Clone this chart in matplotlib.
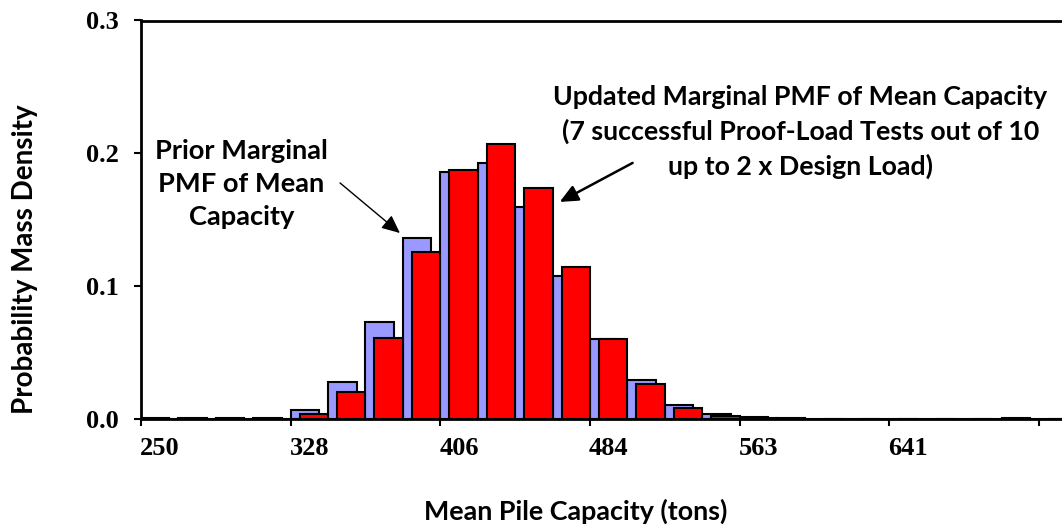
import matplotlib.pyplot as plt
import numpy as np

# bin labels (tons) and probability masses per bin
bins = ['250', '270', '289', '309', '328', '348', '367', '387', '406', '426',
        '445', '465', '484', '504', '524', '543', '563', '582', '602', '621',
        '641', '660', '680', '699', '719']
prior = [0.0004, 0.0004, 0.0004, 0.0004, 0.0068, 0.0275, 0.0730, 0.1360,
         0.1860, 0.1925, 0.1595, 0.1075, 0.0600, 0.0290, 0.0105, 0.0040,
         0.0015, 0.0006, 0.0003, 0.0003, 0.0003, 0.0003, 0.0003, 0.0008,
         0.0003]
updated = [0.0001, 0.0001, 0.0001, 0.0001, 0.0038, 0.0200, 0.0610, 0.1255,
           0.1875, 0.2070, 0.1740, 0.1145, 0.0605, 0.0265, 0.0085, 0.0025,
           0.0008, 0.0003, 0.0001, 0.0001, 0.0001, 0.0001, 0.0001, 0.0002,
           0.0001]

sans = ['Lato', 'DejaVu Sans']
serif = ['Liberation Serif', 'DejaVu Serif']

fig = plt.figure(figsize=(10.62, 5.30), dpi=100)
ax = fig.add_axes([141 / 1062, 111 / 530, 1 - 141 / 1062 + 0.01, 398.5 / 530])

x = np.arange(len(bins))
w = 0.76
ax.bar(x - 0.12, prior, width=w, color='#9999FF', edgecolor='black', linewidth=1.5, zorder=2)
ax.bar(x + 0.12, updated, width=w, color='#FF0000', edgecolor='black', linewidth=1.5, zorder=3)

ax.set_xlim(-0.5, 24.4)
ax.set_ylim(0, 0.3)

# tick marks between categories, labels on every 4th category
ax.set_xticks(np.arange(-0.5, len(bins), 4))
ax.set_xticklabels([])
ax.set_xticks(x[:21:4], minor=True)
ax.set_xticklabels(bins[:21:4], minor=True, fontfamily=serif, fontweight='bold', fontsize=19)
ax.tick_params(axis='x', which='major', direction='out', length=5, width=1.5)
ax.tick_params(axis='x', which='minor', length=0, pad=13)

ax.set_yticks([0, 0.1, 0.2, 0.3])
ax.set_yticklabels(['0.0', '0.1', '0.2', '0.3'], fontfamily=serif, fontweight='bold', fontsize=19)
ax.tick_params(axis='y', direction='out', length=5, width=1.5, pad=11)

for s in ['left', 'bottom', 'top']:
    ax.spines[s].set_linewidth(2)
ax.spines['right'].set_visible(False)

fig.text(25 / 1062, 1 - 259 / 530, 'Probability Mass Density', rotation=90,
         ha='center', va='center', fontfamily=sans, fontweight='bold', fontsize=20)
fig.text(576 / 1062, 1 - 511 / 530, 'Mean Pile Capacity (tons)',
         ha='center', va='center', fontfamily=sans, fontweight='bold', fontsize=19.4)

ax.text(2.18, 0.177, 'Prior Marginal\nPMF of Mean\nCapacity', ha='center', va='center',
        fontfamily=sans, fontweight='bold', fontsize=19.6, linespacing=1.45)
ax.text(17.12, 0.216, 'Updated Marginal PMF of Mean Capacity\n'
        '(7 successful Proof-Load Tests out of 10\nup to 2 x Design Load)',
        ha='center', va='center', fontfamily=sans, fontweight='bold', fontsize=19.3,
        linespacing=1.45)

ax.annotate('', xy=(6.42, 0.140), xytext=(4.82, 0.1777),
            arrowprops=dict(arrowstyle='-|>,head_length=1.1,head_width=0.5',
                            color='black', lw=1.0, shrinkA=0, shrinkB=0), zorder=5)
ax.annotate('', xy=(10.69, 0.1634), xytext=(12.64, 0.1928),
            arrowprops=dict(arrowstyle='-|>,head_length=1.1,head_width=0.5',
                            color='black', lw=1.8, shrinkA=0, shrinkB=0), zorder=5)

fig.savefig('out.png', dpi=100)
